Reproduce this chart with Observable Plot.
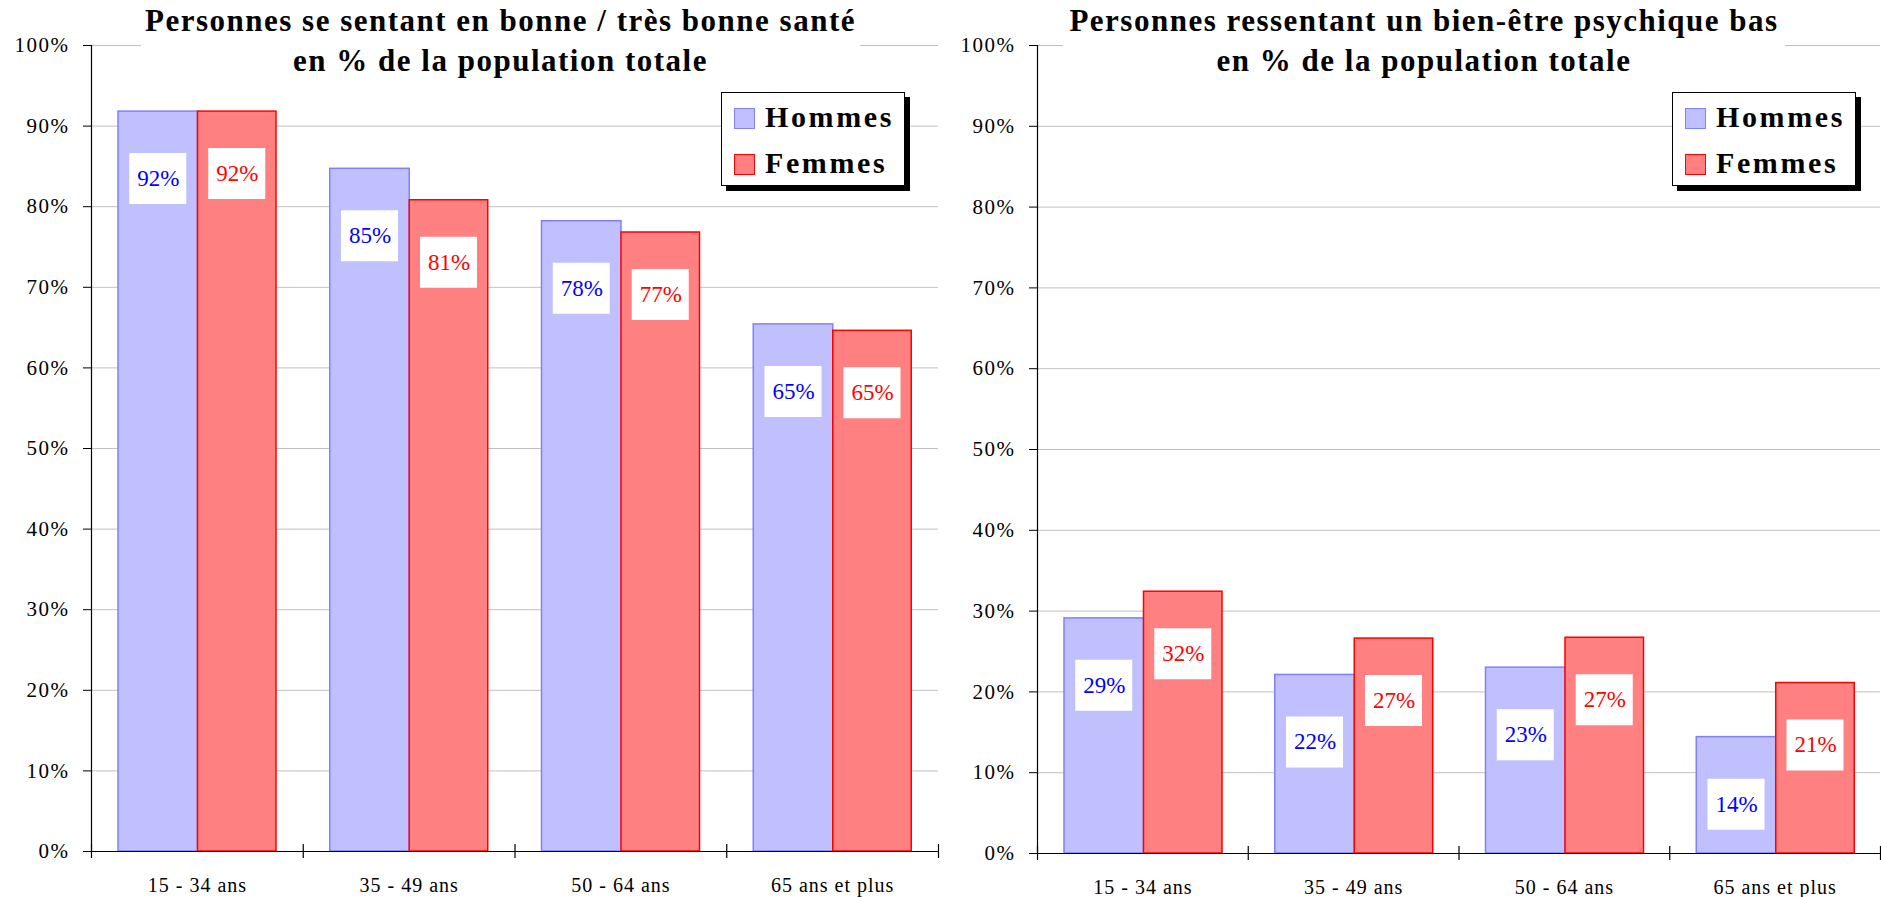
<!DOCTYPE html>
<html><head><meta charset="utf-8">
<script src="https://cdn.jsdelivr.net/npm/d3@7"></script>
<script src="https://cdn.jsdelivr.net/npm/@observablehq/plot@0.6"></script>
<style>
html,body{margin:0;padding:0;background:#fff;}
#wrap{position:relative;width:1881px;height:897px;overflow:hidden;font-family:'Liberation Serif','Times New Roman',serif;color:#000;}
.chart{position:absolute;top:0;}
.title{position:absolute;top:0;height:82px;background:#fff;text-align:center;font-weight:bold;font-size:31px;line-height:40px;letter-spacing:1.5px;white-space:nowrap;padding-top:1px;box-sizing:border-box;}
.legend{position:absolute;top:92px;width:184px;height:94px;box-sizing:border-box;background:#fff;border:1px solid #000;box-shadow:5px 5px 0 #000;}
.legend .sw{position:absolute;left:12px;width:21px;height:21px;box-sizing:border-box;border:1.5px solid;}
.legend .lb{position:absolute;left:43px;font-weight:bold;font-size:30px;line-height:30px;letter-spacing:2.6px;white-space:nowrap;}
g[aria-label="y-axis tick label"] text, g[aria-label="y-axis"] text{letter-spacing:1.5px;}
g[aria-label="text"][fill="#000"] text{letter-spacing:1px;}
</style>
</head><body>
<div id="wrap"></div>
<script>
const categories = ["15 - 34 ans", "35 - 49 ans", "50 - 64 ans", "65 ans et plus"];
const series = ["Hommes", "Femmes"];
const santeHommes = [91.8, 84.7, 78.2, 65.4];
const santeFemmes = [91.8, 80.8, 76.8, 64.6];
const psyHommes = [29.1, 22.1, 23.0, 14.4];
const psyFemmes = [32.4, 26.6, 26.7, 21.1];
const yTicks = [0, 10, 20, 30, 40, 50, 60, 70, 80, 90, 100];
const titleSante = ["Personnes se sentant en bonne / très bonne santé", "en % de la population totale"];
const titlePsy = ["Personnes ressentant un bien-être psychique bas", "en % de la population totale"];

const colors = {
  Hommes: {fill: "#c0c0ff", stroke: "#8080ff", text: "#0000ff"},
  Femmes: {fill: "#ff8080", stroke: "#ff0000", text: "#ff0000"}
};

function makeChart({hommes, femmes, width, marginLeft, marginRight, marginBottom}) {
  const height = 897, marginTop = 45;
  const step = (width - marginLeft - marginRight) / categories.length;
  const rowsH = categories.map((c, i) => ({cat: c, v: hommes[i]}));
  const rowsF = categories.map((c, i) => ({cat: c, v: femmes[i]}));
  const hL = 27, hR = step - 106.5, fL = 106.5, fR = step - 185;
  const hC = 66.75, fC = 145.75, bw = 57;
  const dyH = 67, dyF = 62;
  return Plot.plot({
    width, height, marginTop, marginRight, marginBottom, marginLeft,
    style: {fontFamily: "'Liberation Serif', 'Times New Roman', serif", fontSize: "21px", color: "#000", background: "transparent", overflow: "visible"},
    x: {domain: categories, padding: 0, round: false, axis: null},
    y: {domain: [0, 100], ticks: yTicks, tickFormat: d => d + "%", tickSize: 8, tickPadding: 14, label: null},
    marks: [
      Plot.ruleY(yTicks.filter(d => d > 0), {stroke: "#c0c0c0", strokeWidth: 1}),
      Plot.barY(rowsH, {x: "cat", y: "v", fill: colors.Hommes.fill, stroke: colors.Hommes.stroke, strokeWidth: 1.5, insetLeft: hL, insetRight: hR}),
      Plot.barY(rowsF, {x: "cat", y: "v", fill: colors.Femmes.fill, stroke: colors.Femmes.stroke, strokeWidth: 1.5, insetLeft: fL, insetRight: fR}),
      Plot.ruleY([0], {stroke: "#000", strokeWidth: 1.2}),
      Plot.ruleX([categories[0]], {x: d => d, y1: 0, y2: 100, dx: -step / 2, stroke: "#000", strokeWidth: 1.2}),
      Plot.ruleX(categories, {x: d => d, y1: 0, y2: 0, dx: -step / 2, insetTop: -7, insetBottom: -7, stroke: "#000", strokeWidth: 1.2}),
      Plot.ruleX([categories[categories.length - 1]], {x: d => d, y1: 0, y2: 0, dx: step / 2, insetTop: -7, insetBottom: -7, stroke: "#000", strokeWidth: 1.2}),
      Plot.tickY(rowsH, {x: "cat", y: "v", dy: dyH, stroke: "#fff", strokeWidth: 51, insetLeft: hC - bw / 2, insetRight: step - hC - bw / 2}),
      Plot.tickY(rowsF, {x: "cat", y: "v", dy: dyF, stroke: "#fff", strokeWidth: 51, insetLeft: fC - bw / 2, insetRight: step - fC - bw / 2}),
      Plot.text(rowsH, {x: "cat", y: "v", text: d => Math.round(d.v) + "%", dx: hC - step / 2, dy: dyH, fill: colors.Hommes.text, fontSize: 23}),
      Plot.text(rowsF, {x: "cat", y: "v", text: d => Math.round(d.v) + "%", dx: fC - step / 2, dy: dyF, fill: colors.Femmes.text, fontSize: 23}),
      Plot.text(categories, {x: d => d, y: 0, dy: 34, text: d => d, fill: "#000", fontSize: 20})
    ]
  });
}

const wrap = document.getElementById("wrap");
function place(el, left) { el.classList.add("chart"); el.style.left = left + "px"; wrap.appendChild(el); }

place(makeChart({hommes: santeHommes, femmes: santeFemmes, width: 940, marginLeft: 91, marginRight: 2, marginBottom: 46}), 0);
place(makeChart({hommes: psyHommes, femmes: psyFemmes, width: 941, marginLeft: 97, marginRight: 1, marginBottom: 44}), 940);

function addTitle(lines, left, width) {
  const d = document.createElement("div");
  d.className = "title";
  d.style.left = left + "px";
  d.style.width = width + "px";
  d.innerHTML = lines.map(l => "<div>" + l + "</div>").join("");
  wrap.appendChild(d);
}
addTitle(titleSante, 141, 719);
addTitle(titlePsy, 1063, 722);

function addLegend(left) {
  const d = document.createElement("div");
  d.className = "legend";
  d.style.left = left + "px";
  const tops = [15, 61];
  const lbTops = [9, 55];
  series.forEach((s, i) => {
    const sw = document.createElement("div");
    sw.className = "sw";
    sw.style.top = tops[i] + "px";
    sw.style.background = colors[s].fill;
    sw.style.borderColor = colors[s].stroke;
    d.appendChild(sw);
    const lb = document.createElement("div");
    lb.className = "lb";
    lb.style.top = lbTops[i] + "px";
    lb.textContent = s;
    d.appendChild(lb);
  });
  wrap.appendChild(d);
}
addLegend(721);
addLegend(1672);
</script>
</body></html>
